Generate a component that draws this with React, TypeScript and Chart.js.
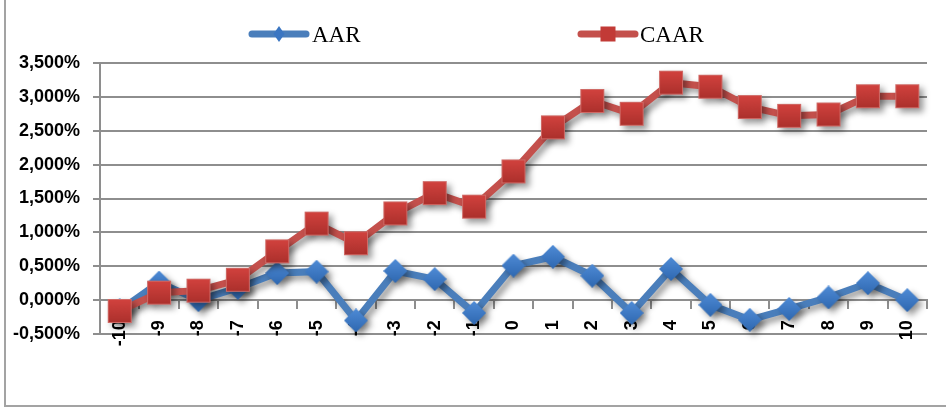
import React, { useEffect, useRef } from 'react';
import { Chart, registerables } from 'chart.js';

Chart.register(...registerables);

const days = ['-10', '-9', '-8', '-7', '-6', '-5', '-4', '-3', '-2', '-1', '0', '1', '2', '3', '4', '5', '6', '7', '8', '9', '10'];
const aar = [-0.15, 0.26, 0.0, 0.18, 0.4, 0.42, -0.3, 0.43, 0.31, -0.19, 0.51, 0.64, 0.36, -0.19, 0.46, -0.07, -0.29, -0.13, 0.04, 0.25, 0.0];
const caar = [-0.16, 0.11, 0.14, 0.3, 0.72, 1.13, 0.84, 1.28, 1.58, 1.38, 1.9, 2.55, 2.94, 2.75, 3.21, 3.15, 2.85, 2.72, 2.74, 3.01, 3.01];
const yTickValues = [-0.5, 0, 0.5, 1, 1.5, 2, 2.5, 3, 3.5];

const BLUE = '#4a7ebb';
const RED = '#c4504c';
const GRID = '#8e8e8e';

// marker images with a vertical gradient, like the office style markers
const makeSquare = () => {
  const c = document.createElement('canvas');
  c.width = 26;
  c.height = 26;
  const ctx = c.getContext('2d')!;
  const g = ctx.createLinearGradient(0, 0, 0, 26);
  g.addColorStop(0, '#d4433f');
  g.addColorStop(1, '#a92f2b');
  ctx.fillStyle = g;
  ctx.fillRect(1, 1, 24, 24);
  ctx.strokeStyle = '#cf6a66';
  ctx.lineWidth = 1;
  ctx.strokeRect(1.5, 1.5, 23, 23);
  return c;
};

const makeDiamond = () => {
  const c = document.createElement('canvas');
  c.width = 24;
  c.height = 24;
  const ctx = c.getContext('2d')!;
  const g = ctx.createLinearGradient(0, 0, 0, 24);
  g.addColorStop(0, '#4f8bd6');
  g.addColorStop(1, '#2e67b0');
  ctx.fillStyle = g;
  ctx.beginPath();
  ctx.moveTo(12, 0);
  ctx.lineTo(24, 12);
  ctx.lineTo(12, 24);
  ctx.lineTo(0, 12);
  ctx.closePath();
  ctx.fill();
  return c;
};

const shadowPlugin = {
  id: 'shadow',
  beforeDatasetsDraw(chart: Chart) {
    const ctx = chart.ctx;
    ctx.save();
    ctx.shadowColor = 'rgba(0,0,0,0.4)';
    ctx.shadowBlur = 6;
    ctx.shadowOffsetX = 4;
    ctx.shadowOffsetY = 4;
  },
  afterDatasetsDraw(chart: Chart) {
    chart.ctx.restore();
  },
};

const tickFont = { family: '"Liberation Sans", Arial, sans-serif', size: 18, weight: 'bold' as const };

const App: React.FC = () => {
  const chartRef = useRef<HTMLCanvasElement>(null);
  const chartInstance = useRef<Chart | null>(null);

  useEffect(() => {
    if (!chartRef.current) return;
    const ctx = chartRef.current.getContext('2d');
    if (!ctx) return;
    if (chartInstance.current) chartInstance.current.destroy();

    chartInstance.current = new Chart(ctx, {
      type: 'line',
      data: {
        labels: days,
        datasets: [
          {
            label: 'CAAR',
            data: caar,
            borderColor: RED,
            borderWidth: 7,
            pointStyle: makeSquare() as any,
            pointRadius: 12,
            clip: false as any,
            order: 0,
          },
          {
            label: 'AAR',
            data: aar,
            borderColor: BLUE,
            borderWidth: 7,
            pointStyle: makeDiamond() as any,
            pointRadius: 11,
            clip: false as any,
            order: 1,
          },
        ],
      },
      options: {
        animation: false,
        responsive: true,
        maintainAspectRatio: false,
        events: [],
        layout: { padding: { left: 0, right: 13, top: 63, bottom: 74 } },
        plugins: {
          legend: { display: false },
          tooltip: { enabled: false },
        },
        scales: {
          x: {
            type: 'category',
            position: { y: 0 } as any,
            offset: true,
            grid: {
              offset: true,
              drawOnChartArea: false,
              drawTicks: true,
              tickLength: 8,
              color: GRID,
              lineWidth: 2,
            },
            border: { display: true, color: GRID, width: 2 },
            ticks: {
              minRotation: 90,
              maxRotation: 90,
              autoSkip: false,
              padding: 12,
              color: '#000',
              font: tickFont,
            },
          },
          y: {
            min: -0.5,
            max: 3.5,
            afterBuildTicks: (scale: any) => {
              scale.ticks = yTickValues.map((v) => ({ value: v }));
            },
            afterFit: (scale: any) => {
              scale.width = 100;
            },
            grid: { color: GRID, lineWidth: 2, tickLength: 7 },
            border: { display: true, color: GRID, width: 2 },
            ticks: {
              padding: 13,
              color: '#000',
              font: tickFont,
              callback: (v: any) => Number(v).toFixed(3).replace('.', ',') + '%',
            },
          },
        },
      },
      plugins: [shadowPlugin],
    });

    return () => {
      if (chartInstance.current) {
        chartInstance.current.destroy();
        chartInstance.current = null;
      }
    };
  }, []);

  const legendText: React.CSSProperties = {
    position: 'absolute',
    top: 21.5,
    height: 23,
    lineHeight: '23px',
    font: '23px "Liberation Serif", "Times New Roman", serif',
    color: '#000',
    whiteSpace: 'nowrap',
  };

  return (
    <div style={{ position: 'absolute', left: 0, top: 0, width: 946, height: 408, overflow: 'hidden', background: '#fff' }}>
      <div
        style={{
          position: 'absolute',
          left: 4,
          top: -10,
          width: 980,
          height: 417,
          borderLeft: '2px solid #a3a3a3',
          borderBottom: '2px solid #a3a3a3',
          boxSizing: 'border-box',
        }}
      />
      <div style={{ position: 'absolute', left: 0, top: 0, width: 946, height: 408 }}>
        <canvas ref={chartRef}></canvas>
      </div>
      <svg style={{ position: 'absolute', left: 248, top: 24.5 }} width={62} height={18}>
        <line x1={4} y1={9} x2={58} y2={9} stroke={BLUE} strokeWidth={7} strokeLinecap="round" />
        <polygon points="31,1 36.5,9 31,17 25.5,9" fill="#3b76c2" />
      </svg>
      <div style={{ ...legendText, left: 312 }}>AAR</div>
      <svg style={{ position: 'absolute', left: 577, top: 24.5 }} width={62} height={18}>
        <line x1={4} y1={9} x2={58} y2={9} stroke={RED} strokeWidth={7} strokeLinecap="round" />
        <rect x={23.5} y={1.5} width={15} height={15} fill="#c23a36" />
      </svg>
      <div style={{ ...legendText, left: 640 }}>CAAR</div>
    </div>
  );
};

export default App;
